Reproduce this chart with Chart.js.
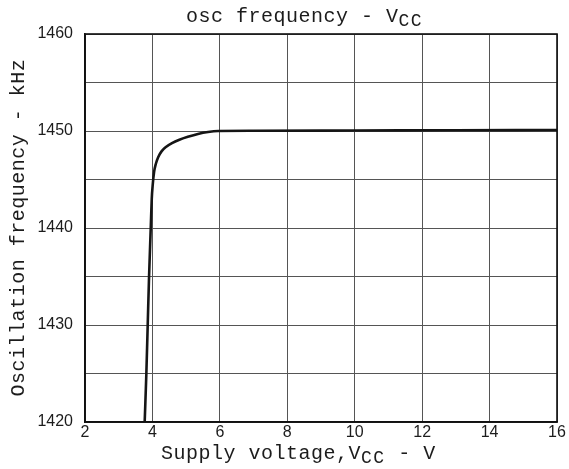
<!DOCTYPE html>
<html>
<head>
<meta charset="utf-8">
<script src="https://cdn.jsdelivr.net/npm/chart.js@4/dist/chart.umd.min.js"></script>
<style>
html,body{margin:0;padding:0;background:#fff;}
canvas{display:block;}
</style>
</head>
<body>
<canvas id="c" width="569" height="469"></canvas>
<script>
// Data
const supplyVoltage = [3.77, 3.82, 3.86, 3.90, 3.95, 3.98, 4.01, 4.05, 4.10, 4.17, 4.27, 4.40, 4.58, 4.80, 5.05, 5.35, 5.65, 5.95, 7.0, 10.0, 13.0, 16.0];
const oscFrequency  = [1420, 1425, 1430, 1435, 1440, 1443.0, 1444.5, 1445.8, 1446.6, 1447.3, 1447.9, 1448.35, 1448.75, 1449.1, 1449.4, 1449.7, 1449.9, 1450.0, 1450.02, 1450.05, 1450.08, 1450.1];
const xTickLabels = ['2', '4', '6', '8', '10', '12', '14', '16'];
const yTickLabels = ['1420', '1430', '1440', '1450', '1460'];
const titleParts  = [['osc frequency - V', false], ['CC', true]];
const xTitleParts = [['Supply voltage,V', false], ['CC', true], [' - V', false]];
const yTitleParts = [['Oscillation frequency - kHz', false]];

const points = supplyVoltage.map((v, i) => ({x: v, y: oscFrequency[i]}));

const MONO = '"Liberation Mono", "DejaVu Sans Mono", monospace';
const textColor = '#1c1c1c';

function drawParts(ctx, parts, cx, baseline) {
  const mainFont = '20px ' + MONO;
  const subFont = '18px ' + MONO;
  const widths = parts.map(([t, sub]) => {
    ctx.font = sub ? subFont : mainFont;
    ctx.letterSpacing = sub ? '1.5px' : '0.5px';
    return ctx.measureText(t).width;
  });
  const total = widths.reduce((a, b) => a + b, 0);
  let x = cx - total / 2;
  ctx.textAlign = 'left';
  ctx.textBaseline = 'alphabetic';
  parts.forEach(([t, sub], i) => {
    ctx.font = sub ? subFont : mainFont;
    ctx.letterSpacing = sub ? '1.5px' : '0.5px';
    ctx.fillText(t, x, baseline + (sub ? 4 : 0));
    x += widths[i];
  });
}

const textPlugin = {
  id: 'textPlugin',
  afterDraw(chart) {
    const ctx = chart.ctx;
    const a = chart.chartArea;
    ctx.save();
    // frame
    ctx.strokeStyle = '#111';
    ctx.lineWidth = 1.6;
    ctx.strokeRect(a.left, a.top, a.right - a.left, a.bottom - a.top);
    ctx.fillStyle = textColor;
    // title
    drawParts(ctx, titleParts, a.left + (a.right - a.left) * 0.465, a.top - 12);
    // x axis title
    drawParts(ctx, xTitleParts, a.left + (a.right - a.left) * 0.452, a.bottom + 37);
    // y axis title
    ctx.save();
    ctx.translate(24, a.top + (a.bottom - a.top) * 0.499);
    ctx.rotate(-Math.PI / 2);
    drawParts(ctx, yTitleParts, 0, 0);
    ctx.restore();
    ctx.restore();
  }
};

const bgPlugin = {
  id: 'bg',
  beforeDraw(chart) {
    const ctx = chart.ctx;
    ctx.save();
    ctx.fillStyle = '#ffffff';
    ctx.fillRect(0, 0, chart.width, chart.height);
    ctx.restore();
  }
};

new Chart(document.getElementById('c'), {
  type: 'scatter',
  data: {
    datasets: [{
      data: points,
      showLine: true,
      borderColor: '#151515',
      borderWidth: 2.6,
      pointRadius: 0,
      cubicInterpolationMode: 'monotone',
      fill: false
    }]
  },
  options: {
    responsive: false,
    animation: false,
    devicePixelRatio: 1,
    layout: { padding: { top: 34, right: 12, left: 0, bottom: 0 } },
    plugins: { legend: { display: false }, tooltip: { enabled: false }, title: { display: false } },
    scales: {
      x: {
        type: 'linear',
        min: 2, max: 16,
        afterFit(s) { s.height = 47; },
        ticks: {
          stepSize: 2,
          autoSkip: false,
          maxRotation: 0,
          padding: 1,
          color: textColor,
          font: { family: '"Liberation Sans", Arial, sans-serif', size: 16 },
          callback: (v) => xTickLabels.includes(String(v)) ? String(v) : ''
        },
        grid: { color: '#555', lineWidth: 1, drawTicks: false },
        border: { color: '#111', width: 1.6 }
      },
      y: {
        type: 'linear',
        min: 1420, max: 1460,
        afterFit(s) { s.width = 85; },
        ticks: {
          stepSize: 5,
          autoSkip: false,
          padding: 12,
          color: textColor,
          font: { family: '"Liberation Sans", Arial, sans-serif', size: 16 },
          callback: (v) => yTickLabels.includes(String(v)) ? String(v) : ''
        },
        grid: { color: '#555', lineWidth: 1, drawTicks: false },
        border: { color: '#111', width: 1.6 }
      }
    }
  },
  plugins: [bgPlugin, textPlugin]
});
</script>
</body>
</html>
